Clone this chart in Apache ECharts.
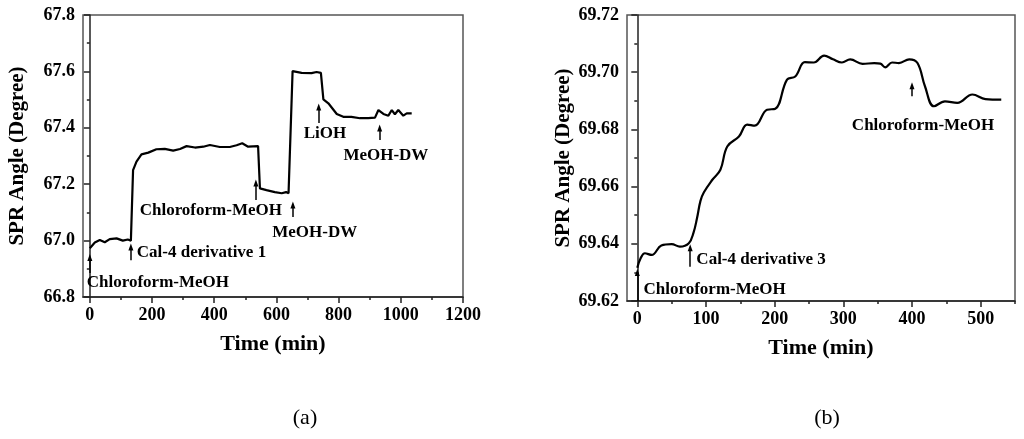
<!DOCTYPE html>
<html>
<head>
<meta charset="utf-8">
<script src="https://cdn.jsdelivr.net/npm/echarts@6/dist/echarts.min.js"></script>
<style>
    html, body { margin: 0; padding: 0; background: #fff; }
    #chart { width: 1024px; height: 439px; }
</style>
</head>
<body>
<div id="chart"></div>
<script>
// panel (a)
var aTime = [0, 16, 32, 48, 64, 86, 106, 122, 132, 139, 150, 166, 188, 214, 241, 268, 290, 311, 338, 365, 386, 418, 450, 472, 490, 509, 541, 547, 568, 595, 617, 631, 639, 652, 681, 713, 729, 743, 751, 767, 794, 815, 841, 869, 895, 917, 922, 928, 944, 960, 971, 981, 992, 1008, 1019, 1035];
var aAngle = [66.973, 66.993, 67.002, 66.994, 67.005, 67.008, 67.0, 67.004, 67.0, 67.25, 67.28, 67.306, 67.312, 67.324, 67.325, 67.319, 67.325, 67.335, 67.33, 67.333, 67.339, 67.332, 67.332, 67.338, 67.345, 67.333, 67.335, 67.185, 67.179, 67.172, 67.168, 67.172, 67.168, 67.601, 67.595, 67.594, 67.598, 67.595, 67.501, 67.487, 67.449, 67.439, 67.439, 67.434, 67.434, 67.436, 67.434, 67.463, 67.449, 67.443, 67.463, 67.448, 67.463, 67.443, 67.451, 67.451];
var aXLabels = [0, 200, 400, 600, 800, 1000, 1200];
var aXMinor = [100, 300, 500, 700, 900, 1100];
// arrows: [x, yFrom, yTo], notes: [x, y, text, align]
var aArrows = [[0, 66.885, 66.94], [132, 66.93, 66.977], [534, 67.144, 67.204], [653, 67.084, 67.126], [736, 67.417, 67.474], [932, 67.357, 67.399]];
var aNotes = [[-10, 66.85, 'Chloroform-MeOH', 'left'], [151, 66.956, 'Cal-4 derivative 1', 'left'], [389, 67.105, 'Chloroform-MeOH', 'center'], [723, 67.027, 'MeOH-DW', 'center'], [756, 67.378, 'LiOH', 'center'], [952, 67.30, 'MeOH-DW', 'center']];

// panel (b)
var bTime = [0, 5, 11, 21, 35, 50, 62, 75, 82, 87, 92, 97, 109, 121, 131, 148, 160, 171, 189, 201, 218, 230, 244, 257, 272, 285, 298, 310, 328, 345, 354, 361, 371, 381, 396, 408, 419, 432, 448, 466, 488, 507, 530];
var bAngle = [69.6316, 69.635, 69.6367, 69.6361, 69.6394, 69.6399, 69.639, 69.6402, 69.644, 69.649, 69.655, 69.658, 69.6623, 69.6659, 69.674, 69.6775, 69.6817, 69.6813, 69.6869, 69.6872, 69.6974, 69.6985, 69.7035, 69.7034, 69.7058, 69.7045, 69.7034, 69.7045, 69.7029, 69.7032, 69.703, 69.7017, 69.7034, 69.7032, 69.7045, 69.7032, 69.695, 69.6881, 69.6898, 69.6893, 69.6922, 69.6906, 69.6904];
var bXLabels = [0, 100, 200, 300, 400, 500];
var bXMinor = [50, 150, 250, 350, 450, 550];
var bArrows = [[0, 69.62, 69.630], [77, 69.632, 69.6386], [400, 69.6916, 69.6953]];
var bNotes = [[9, 69.6241, 'Chloroform-MeOH', 'left'], [86, 69.6344, 'Cal-4 derivative 3', 'left'], [416, 69.6813, 'Chloroform-MeOH', 'center']];

var font = 'Liberation Serif';

function pairs(xs, ys) {
    return xs.map(function (x, i) { return [x, ys[i]]; });
}

function arrowLines(list) {
    return list.map(function (a) {
        return [{ coord: [a[0], a[1]], symbol: 'none' }, { coord: [a[0], a[2]], symbol: 'triangle', symbolSize: [5, 7] }];
    });
}

function notePoints(list) {
    return list.map(function (n) {
        return { value: [n[0], n[1]], name: n[2], label: { align: n[3] } };
    });
}

function mainX(idx, min, max, labels) {
    return {
        type: 'value', gridIndex: idx, min: min, max: max,
        name: 'Time (min)', nameLocation: 'middle', nameGap: 36,
        nameTextStyle: { fontFamily: font, fontWeight: 'bold', fontSize: 22, color: '#000' },
        splitLine: { show: false },
        axisLine: { lineStyle: { color: '#222', width: 1.5 } },
        axisTick: { show: true, inside: false, length: 6, customValues: labels, lineStyle: { color: '#222', width: 1.5 } },
        axisLabel: {
            customValues: labels, margin: 9, fontFamily: font, fontWeight: 'bold', fontSize: 18, color: '#000',
            formatter: function (v) { return String(v); }
        }
    };
}

function minorX(idx, min, max, ticks) {
    return {
        type: 'value', gridIndex: idx, min: min, max: max, position: 'bottom',
        axisLine: { show: false },
        splitLine: { show: false },
        axisLabel: { show: false },
        axisTick: { show: true, length: 3, customValues: ticks, lineStyle: { color: '#222', width: 1.5 } }
    };
}

function mainY(idx, min, max, step, digits, gap) {
    return {
        type: 'value', gridIndex: idx, min: min, max: max, interval: step,
        name: 'SPR Angle (Degree)', nameLocation: 'middle', nameGap: gap,
        nameTextStyle: { fontFamily: font, fontWeight: 'bold', fontSize: 21, color: '#000' },
        splitLine: { show: false },
        axisLine: { show: true, lineStyle: { color: '#222', width: 1.5 } },
        axisTick: { show: true, length: 6, lineStyle: { color: '#222', width: 1.5 } },
        minorTick: { show: true, splitNumber: 2, length: 3, lineStyle: { color: '#222', width: 1.5 } },
        axisLabel: {
            margin: 8, fontFamily: font, fontWeight: 'bold', fontSize: 18, color: '#000',
            formatter: function (v) { return v.toFixed(digits); }
        }
    };
}

function curve(xi, yi, xs, ys, smooth, arrows) {
    return {
        type: 'line', xAxisIndex: xi, yAxisIndex: yi, data: pairs(xs, ys),
        smooth: smooth, symbol: 'none', silent: true,
        lineStyle: { color: '#000', width: 2.2 },
        markLine: {
            silent: true, animation: false,
            symbol: ['none', 'triangle'], symbolSize: 7,
            label: { show: false },
            itemStyle: { color: '#000' },
            lineStyle: { color: '#000', width: 1.5, type: 'solid' },
            data: arrowLines(arrows)
        }
    };
}

function notes(xi, yi, list) {
    return {
        type: 'scatter', xAxisIndex: xi, yAxisIndex: yi, symbolSize: 0, silent: true,
        itemStyle: { opacity: 1 },
        data: notePoints(list),
        label: {
            show: true, position: 'inside', verticalAlign: 'middle',
            formatter: '{b}', fontFamily: font, fontWeight: 'bold', fontSize: 17, color: '#000'
        }
    };
}

var myChart = echarts.init(document.getElementById('chart'));
var option = {
    animation: false,
    backgroundColor: '#fff',
    title: [
        { text: '(a)', left: 300, top: 402, textAlign: 'center', textStyle: { fontFamily: font, fontWeight: 'normal', fontSize: 22, color: '#000' } },
        { text: '(b)', left: 822, top: 402, textAlign: 'center', textStyle: { fontFamily: font, fontWeight: 'normal', fontSize: 22, color: '#000' } }
    ],
    grid: [
        { left: 83, top: 15, width: 380, height: 282, show: true, borderColor: '#555', borderWidth: 1.5, backgroundColor: 'transparent' },
        { left: 627, top: 15, width: 388, height: 286, show: true, borderColor: '#555', borderWidth: 1.5, backgroundColor: 'transparent' }
    ],
    xAxis: [
        mainX(0, -22, 1200, aXLabels),
        minorX(0, -22, 1200, aXMinor),
        mainX(1, -15, 550, bXLabels),
        minorX(1, -15, 550, bXMinor)
    ],
    yAxis: [
        mainY(0, 66.8, 67.8, 0.2, 1, 55),
        mainY(1, 69.62, 69.72, 0.02, 2, 53)
    ],
    series: [
        curve(0, 0, aTime, aAngle, false, aArrows),
        notes(0, 0, aNotes),
        curve(2, 1, bTime, bAngle, 0.4, bArrows),
        notes(2, 1, bNotes)
    ]
};
if (option && typeof option === "object") {
    myChart.setOption(option, true);
}
</script>
</body>
</html>
